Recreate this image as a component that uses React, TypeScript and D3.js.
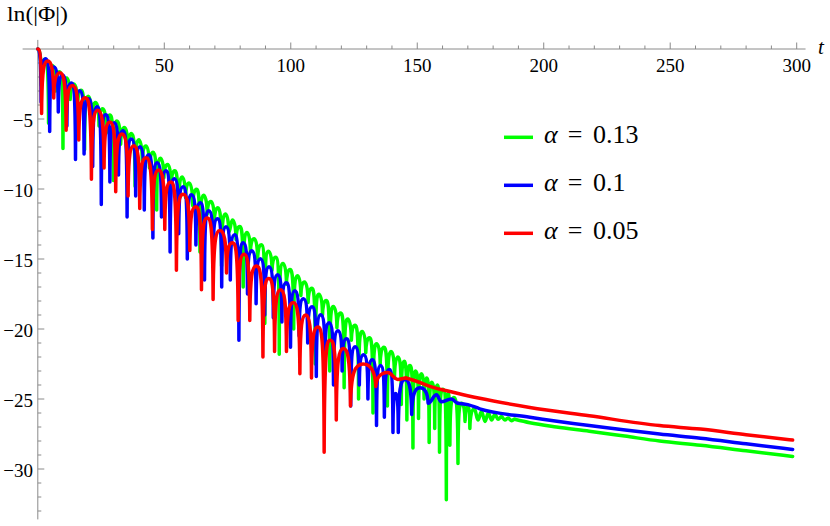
import React from "react";
import * as d3 from "d3";

const W = 830;
const H = 526;

// ---- data: alternating key points (start, dip, peak, dip, peak ...) ----
const greenT = [0, 1.4, 2.8, 4.25, 5.7, 7.1, 8.5, 9.95, 11.4, 12.8, 14.2, 15.65, 17.1, 18.5, 19.9, 21.35, 22.8, 24.2, 25.6, 27.05, 28.5, 29.9, 31.3, 32.75, 34.2, 35.6, 37.0, 38.45, 39.9, 41.3, 42.7, 44.15, 45.6, 47.0, 48.4, 49.85, 51.3, 52.7, 54.1, 55.55, 57.0, 58.4, 59.8, 61.25, 62.7, 64.1, 65.5, 66.95, 68.4, 69.8, 71.2, 72.65, 74.1, 75.5, 76.9, 78.35, 79.8, 81.2, 82.6, 84.05, 85.5, 86.9, 88.3, 89.75, 91.2, 92.6, 94.0, 95.45, 96.9, 98.3, 99.7, 101.15, 102.6, 104.0, 105.4, 106.85, 108.3, 109.7, 111.1, 112.55, 114.0, 115.4, 116.8, 118.25, 119.7, 121.1, 122.5, 123.95, 125.4, 126.8, 128.2, 129.65, 131.1, 132.5, 133.9, 135.35, 136.8, 138.2, 139.6, 141.0, 142.4, 143.7, 144.8, 145.9, 147.1, 148.3, 149.4, 150.5, 151.6, 152.7, 153.7, 154.7, 155.8, 156.9, 157.9, 158.8, 160.1, 161.5, 162.2, 162.9, 164.4, 166.1, 167.5, 168.9, 170.0, 170.8, 172.6, 174.0, 175.4, 176.8, 178.1, 179.4, 180.7, 182.0, 183.3, 184.6, 185.9, 187.2, 188.5];
const greenV = [0, -2.6, -0.73, -5.3, -1.18, -3.0, -1.62, -7.1, -2.07, -3.6, -2.5, -4.2, -2.95, -7.2, -3.38, -5.0, -3.83, -5.5, -4.27, -6.0, -4.72, -9.4, -5.15, -6.8, -5.6, -7.3, -6.04, -9.8, -6.48, -8.0, -6.92, -8.5, -7.37, -11.5, -7.8, -9.2, -8.25, -9.8, -8.69, -13.0, -9.14, -10.6, -9.57, -11.2, -10.02, -14.5, -10.45, -11.8, -10.9, -12.3, -11.34, -15.5, -11.79, -13.1, -12.22, -13.6, -12.67, -17.0, -13.1, -14.5, -13.55, -15.0, -13.99, -19.6, -14.44, -15.8, -14.87, -21.8, -15.32, -16.8, -15.75, -20.0, -16.2, -17.6, -16.64, -18.1, -17.09, -22.5, -17.52, -19.0, -17.97, -23.0, -18.4, -19.9, -18.85, -24.2, -19.29, -20.8, -19.74, -25.0, -20.17, -21.7, -20.62, -26.0, -21.05, -22.5, -21.3, -25.5, -21.6, -23.5, -22.0, -25.4, -22.3, -26.5, -22.6, -28.5, -23.0, -26.4, -23.2, -25.0, -23.5, -28.1, -23.8, -27.1, -24.0, -28.8, -24.3, -32.2, -24.6, -28.3, -24.9, -29.6, -25.3, -26.6, -25.5, -27.1, -25.7, -26.5, -25.9, -26.6, -26.0, -26.5, -26.1, -26.45, -26.25, -26.5, -26.35, -26.55, -26.45];
const greenTailT = [188.5, 194.5, 205, 218, 232, 245.8, 262, 280, 298.4];
const greenTailV = [-26.45, -26.7, -27.0, -27.3, -27.65, -28.0, -28.3, -28.7, -29.1];

const blueT = [0, 1.3, 3.0, 4.7, 6.4, 8.1, 9.8, 11.5, 13.2, 14.9, 16.6, 18.3, 20.0, 21.7, 23.4, 25.1, 26.8, 28.5, 30.2, 31.9, 33.6, 35.3, 37.0, 38.7, 40.4, 42.1, 43.8, 45.5, 47.2, 48.9, 50.6, 52.3, 54.0, 55.7, 57.4, 59.1, 60.8, 62.5, 64.2, 65.9, 67.6, 69.3, 71.0, 72.7, 74.4, 76.1, 77.8, 79.5, 81.2, 82.9, 84.6, 86.3, 88.0, 89.7, 91.4, 93.1, 94.8, 96.5, 98.2, 99.9, 101.6, 103.3, 105.0, 106.7, 108.4, 110.1, 111.8, 113.5, 115.2, 116.9, 118.6, 120.3, 122.0, 123.7, 125.4, 127.1, 128.8, 130.5, 132.2, 133.9, 135.5, 137.0, 138.9, 140.4, 141.5, 142.5, 145.1, 147.8, 151.0, 154.3, 157.6, 159.5, 163.5, 166.1];
const blueV = [0, -3.8, -0.7, -5.9, -1.28, -4.5, -1.85, -5.5, -2.42, -7.9, -2.99, -7.5, -3.56, -8.4, -4.13, -11.1, -4.7, -9.5, -5.27, -9.0, -5.84, -12.0, -6.42, -10.5, -6.99, -11.5, -7.56, -13.5, -8.13, -12.0, -8.7, -14.5, -9.27, -13.2, -9.84, -15.0, -10.41, -14.0, -10.99, -16.5, -11.56, -15.0, -12.13, -17.0, -12.7, -16.5, -13.27, -20.8, -13.84, -17.5, -14.41, -18.2, -14.98, -19.0, -15.56, -19.2, -16.13, -19.5, -16.7, -21.3, -17.27, -20.5, -17.84, -21.0, -18.41, -23.4, -18.98, -22.0, -19.55, -24.0, -20.12, -23.0, -20.7, -25.5, -21.27, -24.0, -21.84, -25.0, -22.2, -26.9, -22.6, -26.3, -22.9, -27.4, -24.6, -27.4, -23.6, -26.1, -24.2, -25.3, -24.7, -25.2, -25.0, -25.3];
const blueTailT = [166.1, 170, 174.7, 194.5, 218, 245.8, 262, 280, 298.4];
const blueTailV = [-25.3, -25.4, -25.7, -26.3, -26.9, -27.5, -27.8, -28.2, -28.6];

const redT = [0, 1.5, 3.9, 6.3, 8.75, 11.2, 13.7, 16.2, 18.7, 21.2, 23.7, 26.2, 28.5, 30.8, 33.25, 35.7, 38.0, 40.3, 42.8, 45.3, 47.75, 50.2, 52.5, 54.8, 57.45, 60.1, 62.4, 64.7, 67.0, 69.3, 71.95, 74.6, 76.9, 79.2, 81.5, 83.8, 86.4, 89.0, 91.3, 93.6, 95.95, 98.3, 100.95, 103.6, 105.9, 108.2, 110.7, 113.2, 115.6, 118.0, 120.8, 123.6, 128.6, 133.6, 138.3, 142.3, 145.5];
const redV = [0, -4.6, -0.85, -3.5, -1.7, -5.8, -2.6, -6.5, -3.48, -9.3, -4.37, -8.5, -5.22, -10.2, -6.07, -10.5, -6.91, -11.4, -7.77, -12.9, -8.65, -12.9, -9.5, -15.8, -10.38, -14.4, -11.26, -17.2, -12.08, -17.9, -12.96, -16.0, -13.84, -19.4, -14.66, -19.4, -15.5, -22.0, -16.4, -21.6, -17.2, -21.6, -18.1, -23.2, -19.0, -23.5, -19.85, -28.8, -20.8, -26.5, -21.4, -25.5, -22.5, -24.1, -23.1, -23.6, -23.5];
const redTailT = [145.5, 150, 155, 165, 174.7, 194.5, 218, 245.8, 262, 280, 298.4];
const redTailV = [-23.5, -23.75, -24.1, -24.55, -24.95, -25.6, -26.2, -26.9, -27.15, -27.55, -27.93];

const xMajor = [50, 100, 150, 200, 250, 300];
const yMajor = [-5, -10, -15, -20, -25, -30];

const legendLabels = ["0.13", "0.1", "0.05"];

// ---- layout ----
const x = d3.scaleLinear().domain([0, 300]).range([37.8, 796.7]);
const y = d3.scaleLinear().domain([0, -30]).range([49, 469]);

const SMOOTH = 0.9;

function archPath(ts: number[], vs: number[]): string {
  const p = d3.path();
  p.moveTo(x(ts[0]), y(vs[0]));
  for (let i = 0; i < ts.length - 1; i++) {
    const t0 = ts[i], v0 = vs[i], t1 = ts[i + 1], v1 = vs[i + 1];
    const dt = t1 - t0;
    let c1: [number, number], c2: [number, number];
    if (v1 > v0) {
      const D = v1 - v0;
      if (D < SMOOTH) {
        c1 = [t0 + 0.4 * dt, v0];
        c2 = [t0 + 0.6 * dt, v1];
      } else {
        c1 = [t0 + 0.05 * dt, v1 - Math.min(0.6, 0.45 * D)];
        c2 = [t0 + 0.35 * dt, v1];
      }
    } else {
      const D = v0 - v1;
      if (D < SMOOTH) {
        c1 = [t0 + 0.4 * dt, v0];
        c2 = [t0 + 0.6 * dt, v1];
      } else {
        c1 = [t0 + 0.65 * dt, v0];
        c2 = [t0 + 0.95 * dt, v0 - Math.min(0.6, 0.45 * D)];
      }
    }
    p.bezierCurveTo(x(c1[0]), y(c1[1]), x(c2[0]), y(c2[1]), x(t1), y(v1));
  }
  return p.toString();
}

const tailLine = d3
  .line<[number, number]>()
  .x((d) => x(d[0]))
  .y((d) => y(d[1]))
  .curve(d3.curveMonotoneX);

function tailPath(ts: number[], vs: number[]): string {
  return tailLine(ts.map((t, i) => [t, vs[i]] as [number, number])) || "";
}

const series = [
  { color: "#00ff00", t: greenT, v: greenV, tt: greenTailT, tv: greenTailV },
  { color: "#0000ff", t: blueT, v: blueV, tt: blueTailT, tv: blueTailV },
  { color: "#ff0000", t: redT, v: redV, tt: redTailT, tv: redTailV },
];

const xMinor = d3.range(10, 301, 10).filter((t) => t % 50 !== 0);
const yMinor = d3.range(-1, -34, -1).filter((v) => v % 5 !== 0);

const AXIS = "#8a8a8a";
const FONT = "'Liberation Serif', 'Times New Roman', serif";

export default function App() {
  const y0 = y(0);
  const x0 = x(0);
  return (
    <svg width={W} height={H} style={{ position: "absolute", left: 0, top: 0, background: "#fff" }}>
      <rect x={0} y={0} width={W} height={H} fill="#fff" />
      {/* axes */}
      <line x1={x(-6)} x2={x(303.5)} y1={y0} y2={y0} stroke={AXIS} strokeWidth={1} />
      <line x1={x0} x2={x0} y1={y(0.65)} y2={y(-33.6)} stroke={AXIS} strokeWidth={1} />
      {xMinor.map((t) => (
        <line key={"xm" + t} x1={x(t)} x2={x(t)} y1={y0} y2={y0 - 3.5} stroke={AXIS} strokeWidth={1} />
      ))}
      {xMajor.map((t) => (
        <g key={"xM" + t}>
          <line x1={x(t)} x2={x(t)} y1={y0} y2={y0 - 6.5} stroke={AXIS} strokeWidth={1} />
          <text x={x(t)} y={y0 + 23} textAnchor="middle" fontFamily={FONT} fontSize={19} fill="#000">
            {t}
          </text>
        </g>
      ))}
      {yMinor.map((v) => (
        <line key={"ym" + v} x1={x0} x2={x0 + 3.5} y1={y(v)} y2={y(v)} stroke={AXIS} strokeWidth={1} />
      ))}
      {yMajor.map((v) => (
        <g key={"yM" + v}>
          <line x1={x0} x2={x0 + 6.5} y1={y(v)} y2={y(v)} stroke={AXIS} strokeWidth={1} />
          <text x={33} y={y(v) + 7.5} textAnchor="end" fontFamily={FONT} fontSize={19} fill="#000">
            {"\u2212" + Math.abs(v)}
          </text>
        </g>
      ))}
      <text x={7} y={21} fontFamily={FONT} fontSize={21} fill="#000" textLength={61} lengthAdjust="spacingAndGlyphs">
        ln(|Φ|)
      </text>
      <text x={818} y={54} fontFamily={FONT} fontSize={21} fontStyle="italic" fill="#000">
        t
      </text>
      {/* curves */}
      {series.map((s, i) => (
        <g key={"s" + i} fill="none" stroke={s.color} strokeWidth={3.5} strokeLinejoin="round" strokeLinecap="round">
          <path d={archPath(s.t, s.v)} />
          <path d={tailPath(s.tt, s.tv)} />
        </g>
      ))}
      {/* legend */}
      {series.map((s, i) => {
        const ly = 137.3 + i * 48;
        return (
          <g key={"lg" + i}>
            <line x1={504} x2={533} y1={ly} y2={ly} stroke={s.color} strokeWidth={3.5} />
            <text x={544} y={ly + 6} fontFamily={FONT} fontSize={26} fontStyle="italic" fill="#000">
              α
            </text>
            <text x={575} y={ly + 6} textAnchor="middle" fontFamily={FONT} fontSize={26} fill="#000">
              =
            </text>
            <text x={593} y={ly + 6} fontFamily={FONT} fontSize={26} fill="#000">
              {legendLabels[i]}
            </text>
          </g>
        );
      })}
    </svg>
  );
}
